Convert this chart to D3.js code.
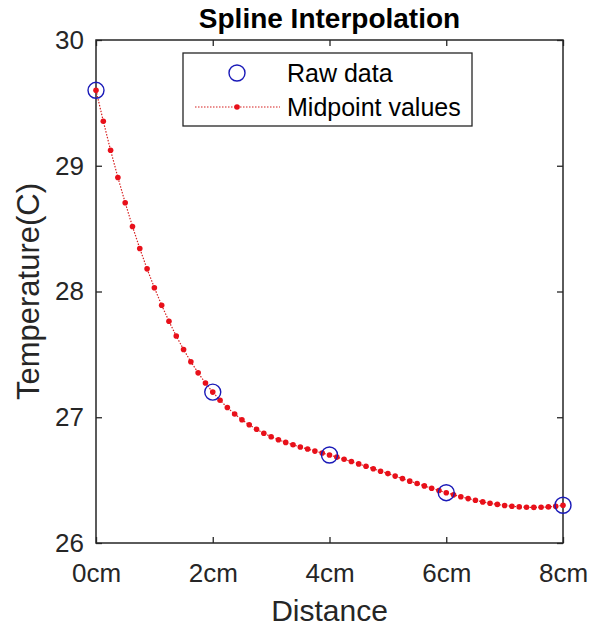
<!DOCTYPE html>
<html>
<head>
<meta charset="utf-8">
<script src="https://cdn.jsdelivr.net/npm/d3@7"></script>
<style>
  body { margin: 0; background: #fff; }
  svg { font-family: "Liberation Sans", Arial, Helvetica, sans-serif; }
</style>
</head>
<body>
<div id="chart"></div>
<script>
// raw measurements
var rawX = [0, 2, 4, 6, 8];
var rawY = [29.6, 27.2, 26.7, 26.4, 26.3];

// midpoint values
var midX = [0, 0.125, 0.25, 0.375, 0.5, 0.625, 0.75, 0.875, 1, 1.125, 1.25, 1.375, 1.5, 1.625, 1.75, 1.875,
  2, 2.125, 2.25, 2.375, 2.5, 2.625, 2.75, 2.875, 3, 3.125, 3.25, 3.375, 3.5, 3.625, 3.75, 3.875,
  4, 4.125, 4.25, 4.375, 4.5, 4.625, 4.75, 4.875, 5, 5.125, 5.25, 5.375, 5.5, 5.625, 5.75, 5.875,
  6, 6.125, 6.25, 6.375, 6.5, 6.625, 6.75, 6.875, 7, 7.125, 7.25, 7.375, 7.5, 7.625, 7.75, 7.875, 8];
var midY = [29.600, 29.354, 29.123, 28.907, 28.706, 28.517, 28.342, 28.180, 28.030, 27.891, 27.763, 27.646, 27.539, 27.441, 27.353, 27.272,
  27.200, 27.135, 27.077, 27.026, 26.980, 26.940, 26.904, 26.873, 26.845, 26.821, 26.800, 26.781, 26.763, 26.747, 26.731, 26.716,
  26.700, 26.683, 26.666, 26.648, 26.629, 26.610, 26.591, 26.571, 26.552, 26.532, 26.512, 26.492, 26.473, 26.454, 26.435, 26.417,
  26.400, 26.383, 26.368, 26.353, 26.340, 26.327, 26.316, 26.307, 26.298, 26.292, 26.287, 26.284, 26.283, 26.284, 26.287, 26.292, 26.300];

var xTicks = [0, 2, 4, 6, 8];
var xTickLabels = ['0cm', '2cm', '4cm', '6cm', '8cm'];
var yTicks = [26, 27, 28, 29, 30];

var W = 591, H = 632;
var mLeft = 96, mRight = 563, mTop = 40, mBottom = 543;
var axisColor = '#262626';

var svg = d3.select('#chart').append('svg')
  .attr('width', W)
  .attr('height', H);

var x = d3.scaleLinear().domain([0, 8]).range([mLeft, mRight]);
var y = d3.scaleLinear().domain([26, 30]).range([mBottom, mTop]);

// axes (matlab style, ticks inside, box on)
var tk = 6;
function styleAxis(g) {
  g.select('.domain').remove();
  g.selectAll('.tick line').attr('stroke', axisColor).attr('stroke-width', 1.3);
  g.selectAll('.tick text').attr('fill', axisColor).style('font-size', '26px');
}

svg.append('g')
  .attr('transform', 'translate(0,' + mBottom + ')')
  .call(d3.axisBottom(x).tickValues(xTicks).tickSize(-tk).tickPadding(21)
    .tickFormat(function (d, i) { return xTickLabels[i]; }))
  .call(styleAxis);

svg.append('g')
  .attr('transform', 'translate(0,' + mTop + ')')
  .call(d3.axisTop(x).tickValues(xTicks).tickSize(-tk).tickFormat(''))
  .call(styleAxis);

svg.append('g')
  .attr('transform', 'translate(' + mLeft + ',0)')
  .call(d3.axisLeft(y).tickValues(yTicks).tickSize(-tk).tickPadding(12).tickFormat(d3.format('d')))
  .call(styleAxis);

svg.append('g')
  .attr('transform', 'translate(' + mRight + ',0)')
  .call(d3.axisRight(y).tickValues(yTicks).tickSize(-tk).tickFormat(''))
  .call(styleAxis);

svg.append('rect')
  .attr('x', mLeft).attr('y', mTop)
  .attr('width', mRight - mLeft).attr('height', mBottom - mTop)
  .attr('fill', 'none')
  .attr('stroke', axisColor)
  .attr('stroke-width', 1.5);

// midpoint curve
var midData = midX.map(function (d, i) { return [d, midY[i]]; });
var line = d3.line()
  .x(function (d) { return x(d[0]); })
  .y(function (d) { return y(d[1]); });

svg.append('path')
  .datum(midData)
  .attr('d', line)
  .attr('fill', 'none')
  .attr('stroke', '#d62020')
  .attr('stroke-width', 1.2)
  .attr('stroke-dasharray', '1.5,1.5');

svg.selectAll('.mid').data(midData)
  .enter().append('circle')
  .attr('class', 'mid')
  .attr('cx', function (d) { return x(d[0]); })
  .attr('cy', function (d) { return y(d[1]); })
  .attr('r', 2.8)
  .attr('fill', '#e8101a');

// raw data circles
svg.selectAll('.raw').data(rawX)
  .enter().append('circle')
  .attr('class', 'raw')
  .attr('cx', function (d) { return x(d); })
  .attr('cy', function (d, i) { return y(rawY[i]); })
  .attr('r', 8)
  .attr('fill', 'none')
  .attr('stroke', '#1a1ab8')
  .attr('stroke-width', 1.4);

// legend
var lg = svg.append('g');
lg.append('rect')
  .attr('x', 183).attr('y', 53)
  .attr('width', 289).attr('height', 73)
  .attr('fill', '#fff')
  .attr('stroke', axisColor)
  .attr('stroke-width', 1.3);
lg.append('circle')
  .attr('cx', 237).attr('cy', 73).attr('r', 8)
  .attr('fill', 'none').attr('stroke', '#1a1ab8').attr('stroke-width', 1.4);
lg.append('line')
  .attr('x1', 195).attr('x2', 280).attr('y1', 107).attr('y2', 107)
  .attr('stroke', '#d62020').attr('stroke-width', 1.2).attr('stroke-dasharray', '1.5,1.5');
lg.append('circle')
  .attr('cx', 237).attr('cy', 107).attr('r', 2.8).attr('fill', '#e8101a');
lg.append('text').attr('x', 287).attr('y', 82)
  .style('font-size', '25px').attr('fill', '#000').text('Raw data');
lg.append('text').attr('x', 287).attr('y', 116)
  .style('font-size', '25px').attr('fill', '#000').text('Midpoint values');

// titles
svg.append('text')
  .attr('x', (mLeft + mRight) / 2).attr('y', 28)
  .attr('text-anchor', 'middle')
  .style('font-size', '28px').style('font-weight', 'bold')
  .attr('fill', '#000')
  .text('Spline Interpolation');

svg.append('text')
  .attr('x', (mLeft + mRight) / 2).attr('y', 621)
  .attr('text-anchor', 'middle')
  .style('font-size', '30px')
  .attr('fill', axisColor)
  .text('Distance');

svg.append('text')
  .attr('transform', 'translate(39,' + ((mTop + mBottom) / 2) + ') rotate(-90)')
  .attr('text-anchor', 'middle')
  .style('font-size', '31px')
  .attr('fill', axisColor)
  .text('Temperature(C)');
</script>
</body>
</html>
